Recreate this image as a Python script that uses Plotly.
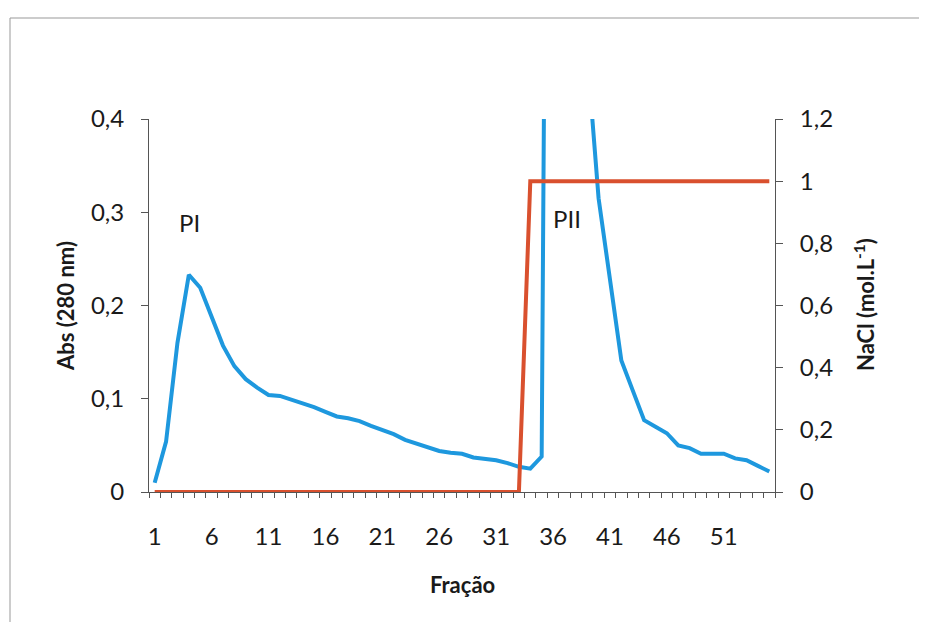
import plotly.graph_objects as go

fractions = list(range(1, 56))
abs280 = [0.010, 0.054, 0.160, 0.233, 0.219, 0.188, 0.157, 0.135, 0.121, 0.112,
          0.104, 0.103, 0.099, 0.096, 0.091, 0.086, 0.081, 0.079, 0.076, 0.071,
          0.067, 0.062, 0.056, 0.052, 0.049, 0.044, 0.042, 0.041, 0.037, 0.036,
          0.034, 0.031, 0.027, 0.025, 0.038, 1.9, 2.3, 1.5, 0.47, 0.315,
          0.225, 0.141, 0.109, 0.077, 0.070, 0.063, 0.050, 0.047, 0.041, 0.041,
          0.041, 0.036, 0.034, 0.028, 0.022]
nacl = [0] * 33 + [1] * 22
x_tick_vals = [1, 6, 11, 16, 21, 26, 31, 36, 41, 46, 51]
x_tick_text = [str(v) for v in x_tick_vals]
abs_ticks = [0, 0.1, 0.2, 0.3, 0.4]
nacl_ticks = [0, 0.2, 0.4, 0.6, 0.8, 1.0, 1.2]

BLUE = "#1E98DE"
RED = "#D9502E"
AX = "#555555"
TXT = "#1a1a1a"
FONT = "Lato, Carlito, Calibri, 'Open Sans', sans-serif"
TS = 24   # tick/label font size
TT = 22   # axis title font size

OFF = 8  # page body margin offset
W, H = 927 - OFF, 622 - OFF
# desired plot area in screenshot coords
SX0, SX1, SY0, SY1 = 149, 775, 119, 492
L = SX0 - OFF
T = SY0 - OFF
R = W - (SX1 - OFF)
B = H - (SY1 - OFF)
pw = SX1 - SX0
ph = SY1 - SY0

def px(xs):
    return (xs - SX0) / pw

def py(ys):
    return (SY1 - ys) / ph

fig = go.Figure()
fig.add_trace(go.Scatter(x=fractions, y=abs280, mode="lines",
                         line=dict(color=BLUE, width=4), yaxis="y", showlegend=False))
fig.add_trace(go.Scatter(x=fractions, y=nacl, mode="lines",
                         line=dict(color=RED, width=4), yaxis="y2", showlegend=False))

def ann(text, xs, ys, size, angle=0):
    return dict(text=text, xref="paper", yref="paper", x=px(xs), y=py(ys),
                xanchor="center", yanchor="middle", textangle=angle,
                showarrow=False, font=dict(size=size, family=FONT, color=TXT))

def frame_line(x0, y0, x1, y1):
    return dict(type="line", xref="paper", yref="paper",
                x0=px(x0), y0=py(y0), x1=px(x1), y1=py(y1),
                line=dict(color="#999999", width=1), layer="below")

fig.update_layout(
    width=W, height=H,
    margin=dict(l=L, r=R, t=T, b=B, pad=0),
    paper_bgcolor="white", plot_bgcolor="white",
    separators=",.",
    font=dict(family=FONT, size=TS, color=TXT),
    xaxis=dict(range=[0.5, 55.5], tickvals=x_tick_vals, ticktext=x_tick_text,
               ticks="", showgrid=False, zeroline=False,
               showline=True, linecolor=AX, linewidth=1,
               ticklabelstandoff=23,
               minor=dict(tickvals=[i + 0.5 for i in range(0, 56)], ticks="outside",
                          ticklen=5, tickcolor=AX, tickwidth=1, showgrid=False),
               tickfont=dict(size=TS)),
    yaxis=dict(range=[0, 0.4], tickvals=abs_ticks, ticks="outside", ticklen=7,
               tickcolor=AX, showgrid=False, zeroline=False, showline=True,
               linecolor=AX, linewidth=1, tickfont=dict(size=TS), ticklabelstandoff=12),
    yaxis2=dict(range=[0, 1.2], tickvals=nacl_ticks, overlaying="y", side="right",
                ticks="outside", ticklen=7, tickcolor=AX, showgrid=False,
                zeroline=False, showline=True, linecolor=AX, linewidth=1,
                tickfont=dict(size=TS), ticklabelstandoff=12),
    shapes=[frame_line(10, 18, 921, 18),
            frame_line(10, 18, 10, 700),
            frame_line(921, 18, 921, 700)],
    annotations=[
        ann("<b>Abs (280 nm)</b>", 65, 306, TT, -90),
        ann("<b>NaCl (mol.L<sup>-1</sup>)</b>", 864, 305, TT, -90),
        ann("<b>Fração</b>", 462, 584, TT),
        ann("PI", 189, 222, TS),
        ann("PII", 567, 218, TS),
    ],
)

fig.write_html("out.html")
